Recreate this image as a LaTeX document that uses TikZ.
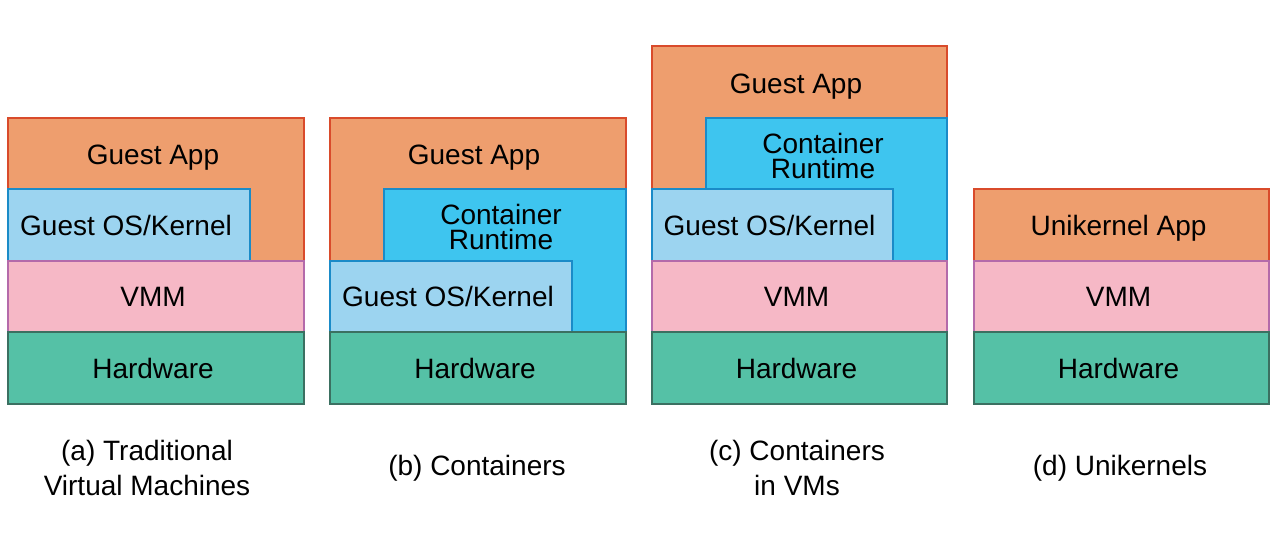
\documentclass[tikz,border=0pt]{standalone}
\usepackage{fontspec}
\setmainfont{Liberation Sans}
\definecolor{appfill}{HTML}{EE9E6E}
\definecolor{appline}{HTML}{D94B2B}
\definecolor{osfill}{HTML}{9CD4F0}
\definecolor{osline}{HTML}{1A8BC8}
\definecolor{rtfill}{HTML}{3EC5EF}
\definecolor{rtline}{HTML}{1A8BC8}
\definecolor{vmmfill}{HTML}{F6B8C6}
\definecolor{vmmline}{HTML}{B46AAA}
\definecolor{hwfill}{HTML}{55C1A6}
\definecolor{hwline}{HTML}{3B7061}
\tikzset{
  layer/.style={draw, line width=2pt, inner sep=0pt, outer sep=0pt, anchor=north west,
    font=\fontsize{28}{25}\selectfont, text depth=0pt, execute at begin node={\hspace*{-6pt}}},
  app/.style={layer, fill=appfill, draw=appline},
  os/.style={layer, fill=osfill, draw=osline},
  rt/.style={layer, fill=rtfill, draw=rtline},
  vmm/.style={layer, fill=vmmfill, draw=vmmline},
  hw/.style={layer, fill=hwfill, draw=hwline},
  txt/.style={font=\fontsize{28}{25}\selectfont, align=center, inner sep=0pt},
  captxt/.style={font=\fontsize{28}{35}\selectfont, align=center, inner sep=0pt}
}
\begin{document}
\begin{tikzpicture}[x=1pt,y=-1pt]
\useasboundingbox (0,0) rectangle (1276,553);
% (a)
\node[app, minimum width=296pt, minimum height=143pt] (aapp) at (8,118) {};
\node[txt] (aapptxt) at (153,158) {Guest App};
\node[os, minimum width=242pt, minimum height=72pt] (aos) at (8,189) {Guest OS/Kernel};
\node[vmm, minimum width=296pt, minimum height=71pt] (avmm) at (8,261) {VMM};
\node[hw, minimum width=296pt, minimum height=72pt] (ahw) at (8,332) {Hardware};
\node[captxt] (acap) at (147,468) {(a) Traditional\\Virtual Machines};
% (b)
\node[app, minimum width=296pt, minimum height=143pt] (bapp) at (330,118) {};
\node[txt] (bapptxt) at (474,158) {Guest App};
\node[rt, minimum width=242pt, minimum height=143pt] (brt) at (384,189) {};
\node[txt] (brttxt) at (501,227) {Container\\Runtime};
\node[os, minimum width=242pt, minimum height=71pt] (bos) at (330,261) {Guest OS/Kernel};
\node[hw, minimum width=296pt, minimum height=72pt] (bhw) at (330,332) {Hardware};
\node[captxt] (bcap) at (477,468) {(b) Containers};
% (c)
\node[app, minimum width=295pt, minimum height=143pt] (capp) at (652,46) {};
\node[txt] (capptxt) at (796,87) {Guest App};
\node[rt, minimum width=241pt, minimum height=143pt] (crt) at (706,118) {};
\node[txt] (crttxt) at (823,156) {Container\\Runtime};
\node[os, minimum width=241pt, minimum height=72pt] (cos) at (652,189) {Guest OS/Kernel};
\node[vmm, minimum width=295pt, minimum height=71pt] (cvmm) at (652,261) {VMM};
\node[hw, minimum width=295pt, minimum height=72pt] (chw) at (652,332) {Hardware};
\node[captxt] (ccap) at (797,468) {(c) Containers\\in VMs};
% (d)
\node[app, minimum width=295pt, minimum height=72pt] (dapp) at (974,189) {Unikernel App};
\node[vmm, minimum width=295pt, minimum height=71pt] (dvmm) at (974,261) {VMM};
\node[hw, minimum width=295pt, minimum height=72pt] (dhw) at (974,332) {Hardware};
\node[captxt] (dcap) at (1120,468) {(d) Unikernels};
\end{tikzpicture}
\end{document}
